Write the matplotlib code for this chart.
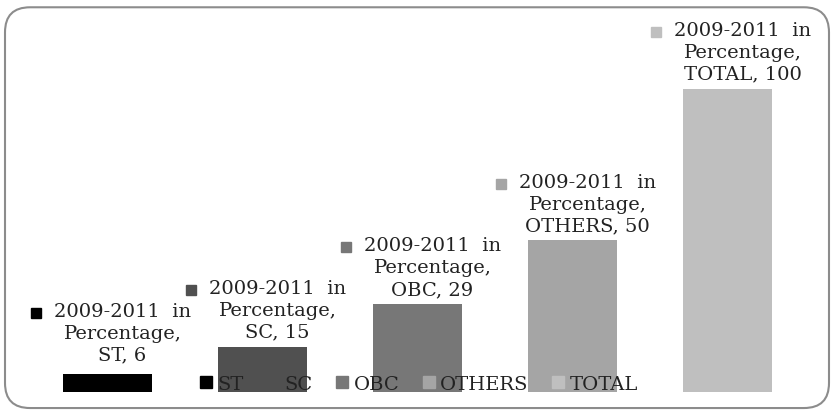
import matplotlib.pyplot as plt
from matplotlib.patches import FancyBboxPatch, Rectangle

categories = ["ST", "SC", "OBC", "OTHERS", "TOTAL"]
values = [6, 15, 29, 50, 100]
colors = ["#000000", "#505050", "#777777", "#a5a5a5", "#bfbfbf"]
series_name = "2009-2011  in"

plt.rcParams["font.family"] = ["DejaVu Serif"]

W, H = 834, 414
fig = plt.figure(figsize=(W / 100, H / 100), dpi=100)

# rounded chart border
fig.patches.append(FancyBboxPatch((0.006, 0.012), 0.988, 0.968,
                                  boxstyle="round,pad=0,rounding_size=0.03",
                                  transform=fig.transFigure, fill=False,
                                  edgecolor="#8c8c8c", linewidth=1.5,
                                  mutation_aspect=W / H))

ax = fig.add_axes([30 / W, 21 / H, 775 / W, 383 / H])
x = range(len(categories))
bars = ax.bar(x, values, width=0.57, color=colors, label=categories)
ax.set_xlim(-0.5, len(categories) - 0.5)
ax.set_ylim(0, 126.3)
ax.axis("off")

fig.canvas.draw()
renderer = fig.canvas.get_renderer()

fs = 14
probe = fig.text(0, 0, series_name, fontsize=fs)
first_w = probe.get_window_extent(renderer).width
probe.remove()

for i, (cat, v, c) in enumerate(zip(categories, values, colors)):
    dy = 10 if i == 0 else 6
    t = ax.annotate(f"{series_name}\nPercentage,\n{cat}, {v}", (i, v),
                    xytext=(15, dy), textcoords="offset pixels",
                    ha="center", va="bottom", fontsize=fs, color="#222222",
                    linespacing=1.27)
    # legend key sits left of the first line
    bb = t.get_window_extent(renderer)
    cx = (bb.x0 + bb.x1) / 2
    right = cx - first_w / 2 - 13
    ymid = bb.y1 - 11
    s = 10
    fig.patches.append(Rectangle(((right - s) / W, (ymid - s / 2) / H), s / W, s / H,
                                 transform=fig.transFigure, color=c))

handles = [plt.Rectangle((0, 0), 1, 1, color=c) for c in colors]
fig.legend(handles, categories, loc="center", bbox_to_anchor=(419 / W, 1 - 385 / H),
           ncol=5, frameon=False, fontsize=fs, handlelength=0.6, handleheight=0.6,
           handletextpad=0.3, columnspacing=1.2, labelcolor="#222222",
           borderpad=0, borderaxespad=0)

fig.savefig("out.png", dpi=100)
